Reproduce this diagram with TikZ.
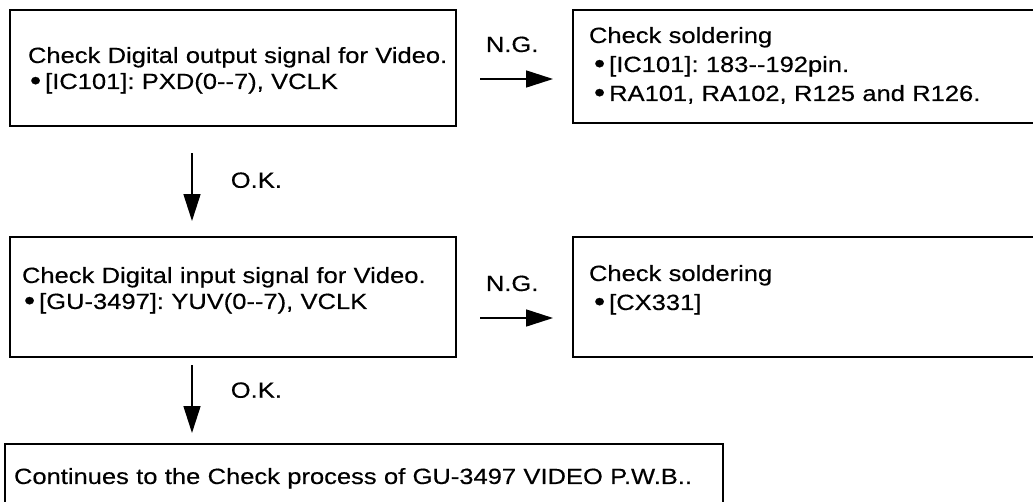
\documentclass[tikz,border=0pt]{standalone}
\usepackage{graphicx}
\usepackage{fontspec}
\setmainfont{Liberation Sans}[FakeStretch=1.16,FakeBold=0.4,Ligatures=TeXOff]
\usetikzlibrary{arrows.meta}
\frenchspacing

\newcommand\dotitem[1][3pt]{\hspace*{#1}\raisebox{-0.8pt}{\scalebox{1.25}{•}}\hspace{4pt}}

\begin{document}
\begin{tikzpicture}[x=1pt,y=-1pt,
    box/.style={draw, line width=2.6pt, anchor=north west, outer sep=0pt,
      inner sep=0pt, align=left, font=\fontsize{22}{26}\selectfont},
    wide/.style={font=\fontsize{22}{29}\selectfont},
    flow/.style={line width=1.6pt, -{Triangle[length=27pt,width=17pt]}},
    tag/.style={inner sep=0pt, font=\fontsize{22}{24}\selectfont}]
\useasboundingbox (0,0) rectangle (1033,501);
\clip (0,0) rectangle (1033,501);

% boxes
\node[box, text width=446pt, minimum height=116pt, text depth=26pt,
  execute at begin node={\leftskip=18pt}] (chkout) at (10,10)
  {Check Digital output signal for Video.\\\dotitem[2pt][IC101]: PXD(0--7), VCLK};
\node[box, wide, text width=480pt, minimum height=113pt, text depth=63pt,
  execute at begin node={\leftskip=16pt}] (solderA) at (573,10)
  {Check soldering\\\dotitem[5pt][IC101]: 183--192pin.\\\dotitem[5pt]RA101, RA102, R125 and R126.};
\node[box, text width=446pt, minimum height=120pt, text depth=44pt,
  execute at begin node={\leftskip=12pt}] (chkin) at (10,237)
  {Check Digital input signal for Video.\\\dotitem[2pt][GU-3497]: YUV(0--7), VCLK};
\node[box, wide, text width=480pt, minimum height=120pt, text depth=48pt,
  execute at begin node={\leftskip=16pt}] (solderB) at (573,237)
  {Check soldering\\\dotitem[5pt][CX331]};
\node[box, text width=718pt, minimum height=68pt, text depth=4pt,
  execute at begin node={\leftskip=9pt}] (cont) at (5,444)
  {Continues to the Check process of GU-3497 VIDEO P.W.B..};

% N.G. arrows
\draw[flow] ([xshift=24pt,yshift=-11pt]chkout.east)
  -- node[tag, above=26pt, pos=0.44] (ng1) {N.G.}
  ([xshift=-20pt,yshift=-11pt]solderA.west |- chkout.east);
\draw[flow] ([xshift=24pt,yshift=-21pt]chkin.east)
  -- node[tag, above=26pt, pos=0.44] (ng2) {N.G.}
  ([xshift=-20pt,yshift=-21pt]solderB.west |- chkin.east);

% O.K. arrows
\draw[flow] ([xshift=-41pt,yshift=-27pt]chkout.south)
  -- node[tag, right=38pt, pos=0.4] (ok1) {O.K.}
  ([xshift=-41pt,yshift=16pt]chkin.north);
\draw[flow] ([xshift=-41pt,yshift=-8pt]chkin.south)
  -- node[tag, right=38pt, pos=0.37] (ok2) {O.K.}
  ([xshift=-41pt,yshift=11pt]cont.north -| chkin.south);
\end{tikzpicture}
\end{document}
